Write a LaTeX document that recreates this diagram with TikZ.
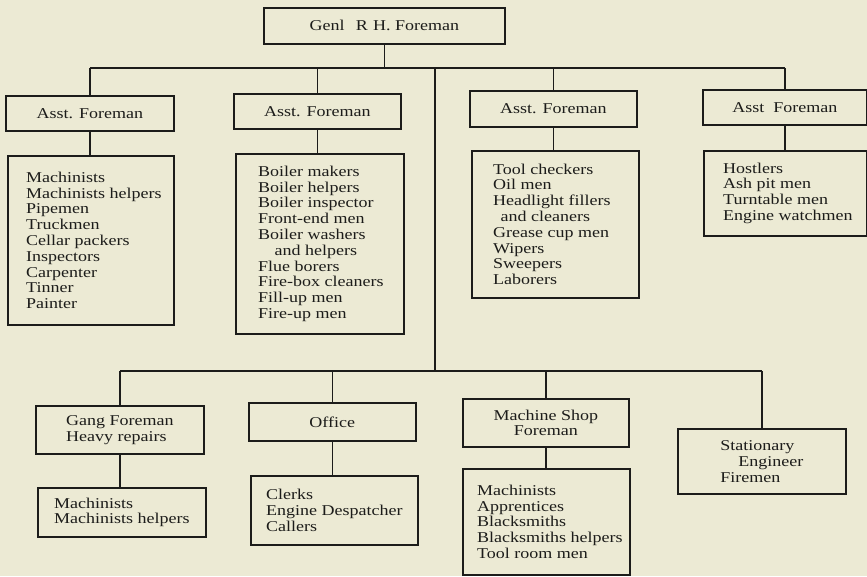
\documentclass[tikz,border=0pt]{standalone}
\usepackage{fontspec}
\setmainfont{Liberation Serif}[FakeStretch=1.2]
\definecolor{paper}{RGB}{236,234,212}
\definecolor{ink}{RGB}{28,28,26}
\begin{document}
\begin{tikzpicture}[x=1pt,y=-1pt,
  every node/.style={font=\fontsize{15}{15.8}\selectfont, text=ink},
  box/.style={draw=ink, line width=1.6pt, rectangle, inner sep=0pt, anchor=north west},
  ttl/.style={box, align=center},
  txt/.style={inner sep=0pt, align=left, anchor=west},
  wire/.style={draw=ink, line width=1.6pt}]
\fill[paper] (0,0) rectangle (867,576);
\useasboundingbox (0,0) rectangle (867,576);

% top
\node[ttl, minimum width=241pt, minimum height=36pt] (top) at (263,7) {Genl\hspace{0.75em}R\hspace{0.35em}H. Foreman};

% assistant foremen
\node[ttl, minimum width=168pt, minimum height=35pt] (a1) at (5,95) {Asst. Foreman};
\node[ttl, minimum width=167pt, minimum height=35pt] (a2) at (233,93) {Asst. Foreman};
\node[ttl, minimum width=167pt, minimum height=36pt] (a3) at (469,90) {Asst. Foreman};
\node[ttl, minimum width=164pt, minimum height=35pt] (a4) at (702,89) {Asst\hspace{0.6em}Foreman};

% lists under assistants
\node[box, minimum width=166pt, minimum height=169pt] (l1) at (7,155) {};
\node[txt] (t1) at ([xshift=19pt]l1.west) {Machinists\\Machinists helpers\\Pipemen\\Truckmen\\Cellar packers\\Inspectors\\Carpenter\\Tinner\\Painter};
\node[box, minimum width=168pt, minimum height=180pt] (l2) at (235,153) {};
\node[txt] (t2) at ([xshift=23pt]l2.west) {Boiler makers\\Boiler helpers\\Boiler inspector\\Front-end men\\Boiler washers\\\hspace*{1.1em}and helpers\\Flue borers\\Fire-box cleaners\\Fill-up men\\Fire-up men};
\node[box, minimum width=167pt, minimum height=147pt] (l3) at (471,150) {};
\node[txt] (t3) at ([xshift=22pt]l3.west) {Tool checkers\\Oil men\\Headlight fillers\\\hspace*{0.5em}and cleaners\\Grease cup men\\Wipers\\Sweepers\\Laborers};
\node[box, minimum width=163pt, minimum height=85pt] (l4) at (703,150) {};
\node[txt] (t4) at ([xshift=20pt]l4.west) {Hostlers\\Ash pit men\\Turntable men\\Engine watchmen};

% lower row heads
\node[box, align=left, minimum width=168pt, minimum height=48pt] (gang) at (35,405) {Gang Foreman\\Heavy repairs};
\node[ttl, minimum width=167pt, minimum height=38pt] (off) at (248,402) {Office};
\node[ttl, minimum width=166pt, minimum height=48pt] (msf) at (462,398) {Machine Shop\\Foreman};
\node[box, align=left, minimum width=168pt, minimum height=65pt] (stat) at (677,428) {Stationary\\\hspace*{1.2em}Engineer\\Firemen};

% lower lists
\node[box, minimum width=168pt, minimum height=49pt] (gl) at (37,487) {};
\node[txt] (t5) at ([xshift=17pt]gl.west) {Machinists\\Machinists helpers};
\node[box, minimum width=167pt, minimum height=69pt] (cl) at (250,475) {};
\node[txt] (t6) at ([xshift=16pt]cl.west) {Clerks\\Engine Despatcher\\Callers};
\node[box, minimum width=167pt, minimum height=106pt] (ml) at (462,468) {};
\node[txt] (t7) at ([xshift=15pt]ml.west) {Machinists\\Apprentices\\Blacksmiths\\Blacksmiths helpers\\Tool room men};

% connectors
\coordinate (bus) at (383.5,68);
\coordinate (trunkTop) at (435,68);
\coordinate (trunkBot) at (435,371);
\draw[wire] (top.south) -- (top.south |- bus);
\draw[wire] (a1.north |- bus) -- (a4.north |- bus);
\draw[wire] (a1.north |- bus) -- (a1.north);
\draw[wire] (a2.north |- bus) -- (a2.north);
\draw[wire] (a3.north |- bus) -- (a3.north);
\draw[wire] (a4.north |- bus) -- (a4.north);
\draw[wire] (a1.south) -- (a1.south |- l1.north);
\draw[wire] (a2.south) -- (a2.south |- l2.north);
\draw[wire] (a3.south) -- (a3.south |- l3.north);
\draw[wire] (a4.south) -- (a4.south |- l4.north);
\draw[wire] (trunkTop) -- (trunkBot);
\draw[wire] (gang.north |- trunkBot) -- (stat.north |- trunkBot);
\draw[wire] (gang.north |- trunkBot) -- (gang.north);
\draw[wire] (off.north |- trunkBot) -- (off.north);
\draw[wire] (msf.north |- trunkBot) -- (msf.north);
\draw[wire] (stat.north |- trunkBot) -- (stat.north);
\draw[wire] (gang.south) -- (gang.south |- gl.north);
\draw[wire] (off.south) -- (off.south |- cl.north);
\draw[wire] (msf.south) -- (msf.south |- ml.north);
\end{tikzpicture}
\end{document}
